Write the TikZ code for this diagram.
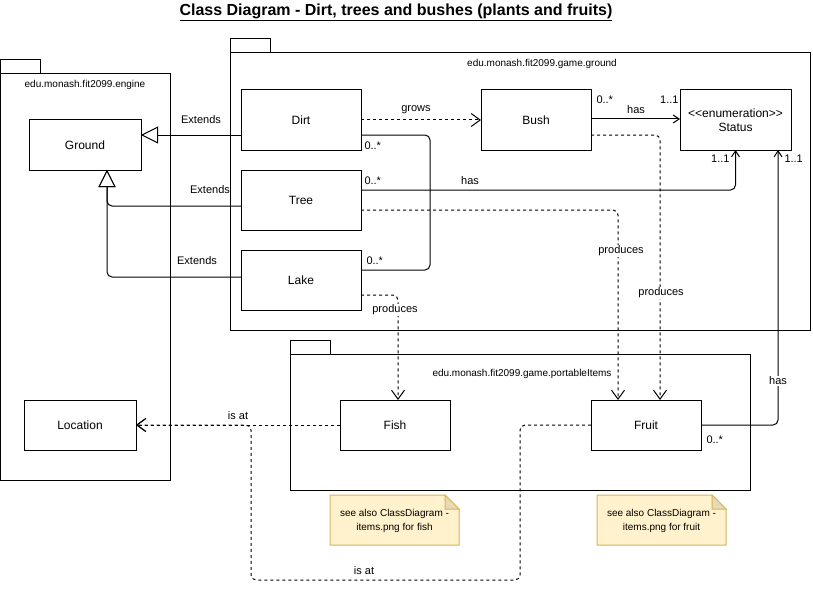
\documentclass[tikz,border=0pt]{standalone}
\usepackage{fontspec}
\setmainfont{Liberation Sans}
\usetikzlibrary{arrows.meta,calc}
\definecolor{notefill}{HTML}{FFF2CC}
\definecolor{noteline}{HTML}{D6B656}
\definecolor{notefold}{HTML}{E6DAB8}
\begin{document}
\begin{tikzpicture}[x=1pt,y=-1pt, line width=1pt,
  cls/.style={draw, fill=white, inner sep=0pt, outer sep=0pt, align=center, font=\fontsize{12}{14}\selectfont},
  pkg/.style={draw, inner sep=0pt, outer sep=0pt},
  lbl/.style={font=\fontsize{11}{13}\selectfont, inner sep=1pt},
  lblw/.style={lbl, fill=white},
  pkglbl/.style={font=\fontsize{10}{12}\selectfont, inner sep=1pt},
  notebox/.style={draw=noteline, fill=notefill, line width=1pt},
  notefoldst/.style={draw=noteline, fill=notefold, line width=1pt},
  notetxt/.style={align=center, font=\fontsize{10}{14}\selectfont, inner sep=0pt},
  ext/.style={-{Triangle[open,length=17pt,width=17pt,fill=white]}},
  dep/.style={dash pattern=on 3pt off 3pt, -{Straight Barb[length=9pt,width=13pt]}},
  assoc/.style={-{Straight Barb[length=6pt,width=8pt]}},
  rc/.style={rounded corners=5pt}
]
\useasboundingbox (0,0) rectangle (813,591);

% title
\node[font=\bfseries\fontsize{16}{19}\selectfont] (title) at (396,12)
  {\underline{Class Diagram - Dirt, trees and bushes (plants and fruits)}};

% packages
\node[pkg, minimum width=170pt, minimum height=406pt, anchor=north west] (pkgEngine) at (0.5,74) {};
\node[pkg, minimum width=40pt, minimum height=14pt, anchor=south west] (tabEngine) at (pkgEngine.north west) {};
\node[pkg, minimum width=580pt, minimum height=277pt, anchor=north west] (pkgGround) at (230,53) {};
\node[pkg, minimum width=40pt, minimum height=14pt, anchor=south west] (tabGround) at (pkgGround.north west) {};
\node[pkg, minimum width=460pt, minimum height=136pt, anchor=north west] (pkgItems) at (290,354) {};
\node[pkg, minimum width=40pt, minimum height=14pt, anchor=south west] (tabItems) at (pkgItems.north west) {};

\node[pkglbl] (lblEngine) at (85,85) {edu.monash.fit2099.engine};
\node[pkglbl] (lblGround) at (542,64) {edu.monash.fit2099.game.ground};
\node[pkglbl] (lblItems) at (522,374) {edu.monash.fit2099.game.portableItems};

% classes
\node[cls, minimum width=112pt, minimum height=50pt] (Ground) at (85,145) {Ground};
\node[cls, minimum width=120pt, minimum height=60pt] (Dirt) at (301,120) {Dirt};
\node[cls, minimum width=120pt, minimum height=60pt] (Tree) at (301,200) {Tree};
\node[cls, minimum width=120pt, minimum height=60pt] (Lake) at (301,280) {Lake};
\node[cls, minimum width=110pt, minimum height=60pt] (Bush) at (536,120) {Bush};
\node[cls, minimum width=111pt, minimum height=60pt] (Status) at (735.5,120) {<\kern0pt<enumeration>\kern0pt>\\Status};
\node[cls, minimum width=112pt, minimum height=50pt] (Location) at (80,425) {Location};
\node[cls, minimum width=110pt, minimum height=50pt] (Fish) at (395,425) {Fish};
\node[cls, minimum width=110pt, minimum height=50pt] (Fruit) at (646,425) {Fruit};

% notes
\coordinate (nfA) at (330,495);
\draw[notebox] (nfA) -- ++(115,0) -- ++(14,14) -- ++(0,36) -- ++(-129,0) -- cycle;
\draw[notefoldst] ($(nfA)+(115,0)$) -- ++(0,14) -- ++(14,0) -- cycle;
\node[notetxt] (noteFish) at ($(nfA)+(64.5,26)$) {see also ClassDiagram -\\items.png for fish};
\coordinate (nfB) at (597,495);
\draw[notebox] (nfB) -- ++(115,0) -- ++(14,14) -- ++(0,36) -- ++(-129,0) -- cycle;
\draw[notefoldst] ($(nfB)+(115,0)$) -- ++(0,14) -- ++(14,0) -- cycle;
\node[notetxt] (noteFruit) at ($(nfB)+(64.5,26)$) {see also ClassDiagram -\\items.png for fruit};

% generalisations
\draw[ext] ($(Dirt.west)+(0,15)$) -- ($(Ground.east)+(0,-10)$);
\draw[ext, rc] ($(Tree.west)+(0,6)$) -| ($(Ground.south)+(22,0)$);
\draw[ext, rc] ($(Lake.west)+(0,-3)$) -| ($(Ground.south)+(22,0)$);

% dependencies
\draw[dep] (Dirt.east) -- (Bush.west);
\draw[dep, rc] ($(Bush.east)+(0,15)$) -| ($(Fruit.north)+(14,0)$);
\draw[dep, rc] ($(Tree.east)+(0,10)$) -| ($(Fruit.north)+(-28,0)$);
\draw[dep, rc] ($(Lake.east)+(0,15)$) -| ($(Fish.north)+(3,0)$);
\draw[dep] (Fish.west) -- (Location.east);
\draw[dep, rc] (Fruit.west) -| ($(Fruit.west)+(-71,155)$) -| ($(Location.east)+(115,0)$) -- (Location.east);

% associations
\draw[rc] ($(Dirt.east)+(0,15)$) -- ++(69,0) |- ($(Lake.east)+(0,-10)$);
\draw[assoc, rc] ($(Tree.east)+(0,-10)$) -| (Status.south);
\draw[assoc] ($(Bush.east)+(0,-1)$) -- ($(Status.west)+(0,-1)$);
\draw[assoc, rc] (Fruit.east) -| ($(Status.south)+(42.5,0)$);

% labels
\node[lbl] (lExt1) at (201,120) {Extends};
\node[lbl] (lExt2) at (210,190) {Extends};
\node[lbl] (lExt3) at (197,261) {Extends};
\node[lbl] (lGrows) at (416,110) {grows};
\node[lbl, anchor=west] (mDirt) at (363,146) {0..*};
\node[lbl, anchor=west] (mTree) at (363,181) {0..*};
\node[lbl, anchor=west] (mLake) at (365,261) {0..*};
\node[lbl] (lHasTree) at (470,181) {has};
\node[lbl, anchor=west] (mBush) at (595,100) {0..*};
\node[lbl] (lHasBush) at (636,110) {has};
\node[lbl, anchor=east] (mStatusA) at (680,100) {1..1};
\node[lbl, anchor=east] (mStatusB) at (731,159) {1..1};
\node[lbl, anchor=west] (mStatusC) at (783,159) {1..1};
\node[lblw] (lProdTree) at (621,251) {produces};
\node[lblw] (lProdBush) at (661,293) {produces};
\node[lblw] (lProdLake) at (395,310) {produces};
\node[lblw] (lHasFruit) at (778,381) {has};
\node[lbl, anchor=west] (mFruit) at (705,440) {0..*};
\node[lbl] (lIsAt1) at (238,416) {is at};
\node[lbl] (lIsAt2) at (364,571) {is at};
\end{tikzpicture}
\end{document}
